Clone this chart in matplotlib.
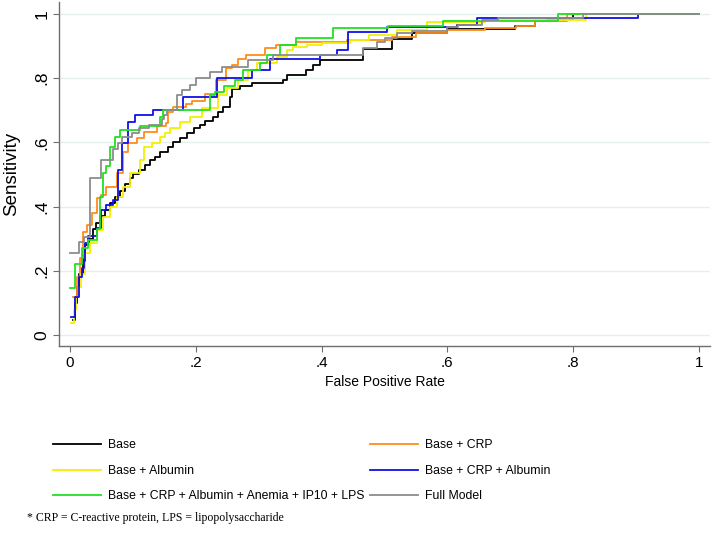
import matplotlib.pyplot as plt

# ROC step curves: (false positive rate, sensitivity)
base_fpr = [0.004, 0.008, 0.011, 0.014, 0.02, 0.024, 0.03, 0.036, 0.042, 0.048, 0.056, 0.064, 0.072,
            0.08, 0.088, 0.095, 0.10, 0.11, 0.12, 0.127, 0.135, 0.143, 0.155, 0.164, 0.175, 0.186,
            0.197, 0.207, 0.215, 0.227, 0.235, 0.244, 0.254, 0.258, 0.27, 0.29, 0.339, 0.345, 0.375,
            0.386, 0.397, 0.466, 0.512, 0.544, 0.60, 0.707, 0.739, 0.758, 0.80, 1.0]
base_tpr = [0.047, 0.10, 0.15, 0.19, 0.25, 0.28, 0.30, 0.33, 0.35, 0.37, 0.39, 0.41, 0.43,
            0.45, 0.47, 0.49, 0.50, 0.515, 0.53, 0.545, 0.555, 0.57, 0.585, 0.60, 0.615, 0.63,
            0.645, 0.655, 0.665, 0.68, 0.695, 0.71, 0.74, 0.765, 0.775, 0.785, 0.795, 0.81, 0.825,
            0.84, 0.857, 0.891, 0.922, 0.94, 0.953, 0.963, 0.978, 0.985, 1.0, 1.0]

crp_fpr = [0.004, 0.011, 0.016, 0.021, 0.027, 0.035, 0.043, 0.05, 0.058, 0.075, 0.085, 0.092, 0.106,
           0.117, 0.138, 0.153, 0.156, 0.164, 0.185, 0.194, 0.215, 0.232, 0.248, 0.257, 0.267, 0.28,
           0.31, 0.327, 0.36, 0.44, 0.512, 0.55, 0.60, 0.66, 0.709, 0.739, 0.79, 1.0]
crp_tpr = [0.12, 0.18, 0.24, 0.32, 0.343, 0.38, 0.427, 0.436, 0.46, 0.505, 0.57, 0.598, 0.613,
           0.633, 0.65, 0.66, 0.695, 0.71, 0.72, 0.73, 0.75, 0.794, 0.83, 0.84, 0.86, 0.872,
           0.894, 0.903, 0.913, 0.919, 0.928, 0.94, 0.95, 0.955, 0.963, 0.978, 1.0, 1.0]

alb_fpr = [0.002, 0.006, 0.010, 0.014, 0.018, 0.024, 0.032, 0.043, 0.053, 0.064, 0.075, 0.085, 0.095,
           0.111, 0.117, 0.13, 0.143, 0.151, 0.159, 0.175, 0.19, 0.21, 0.235, 0.249, 0.267, 0.283,
           0.297, 0.329, 0.345, 0.355, 0.377, 0.40, 0.445, 0.476, 0.52, 0.567, 0.66, 0.82, 1.0]
alb_tpr = [0.037, 0.078, 0.12, 0.15, 0.19, 0.255, 0.286, 0.327, 0.368, 0.40, 0.43, 0.46, 0.505,
           0.545, 0.586, 0.598, 0.617, 0.63, 0.645, 0.664, 0.68, 0.707, 0.748, 0.77, 0.794, 0.826,
           0.847, 0.866, 0.888, 0.897, 0.903, 0.91, 0.92, 0.934, 0.95, 0.975, 0.98, 1.0, 1.0]

crp_alb_fpr = [0.001, 0.008, 0.014, 0.019, 0.022, 0.024, 0.029, 0.043, 0.05, 0.058, 0.068, 0.077,
               0.083, 0.092, 0.103, 0.132, 0.18, 0.233, 0.29, 0.318, 0.397, 0.424, 0.442, 0.504,
               0.615, 0.647, 0.903, 1.0]
crp_alb_tpr = [0.056, 0.12, 0.18, 0.21, 0.23, 0.286, 0.31, 0.333, 0.39, 0.405, 0.42, 0.514,
               0.598, 0.664, 0.685, 0.70, 0.742, 0.80, 0.826, 0.86, 0.872, 0.888, 0.944, 0.96,
               0.966, 0.988, 1.0, 1.0]

lps_fpr = [0.0, 0.008, 0.019, 0.029, 0.043, 0.048, 0.053, 0.058, 0.064, 0.072, 0.08, 0.111, 0.143,
           0.148, 0.222, 0.23, 0.245, 0.262, 0.275, 0.302, 0.313, 0.334, 0.36, 0.418, 0.506, 0.593,
           0.776, 1.0]
lps_tpr = [0.146, 0.22, 0.27, 0.296, 0.33, 0.43, 0.505, 0.525, 0.586, 0.617, 0.64, 0.65, 0.68,
           0.70, 0.748, 0.757, 0.775, 0.794, 0.826, 0.847, 0.872, 0.903, 0.925, 0.956, 0.963, 0.978,
           1.0, 1.0]

full_fpr = [0.0, 0.014, 0.022, 0.032, 0.05, 0.069, 0.077, 0.083, 0.098, 0.11, 0.125, 0.146, 0.15,
            0.154, 0.17, 0.178, 0.19, 0.2, 0.222, 0.241, 0.283, 0.323, 0.466, 0.488, 0.50, 0.52,
            0.544, 0.60, 0.617, 0.655, 0.68, 0.815, 1.0]
full_tpr = [0.255, 0.29, 0.305, 0.49, 0.545, 0.58, 0.598, 0.617, 0.63, 0.645, 0.654, 0.673, 0.685,
            0.70, 0.748, 0.763, 0.78, 0.80, 0.82, 0.835, 0.857, 0.872, 0.894, 0.913, 0.925, 0.94,
            0.947, 0.96, 0.966, 0.981, 0.988, 1.0, 1.0]

tick_vals = [0, 0.2, 0.4, 0.6, 0.8, 1]
tick_labels = ["0", ".2", ".4", ".6", ".8", "1"]

plt.rcParams["font.family"] = ["Liberation Sans", "DejaVu Sans"]

fig = plt.figure(figsize=(7.14, 5.52), dpi=100)
ax = fig.add_axes([59 / 714, 206 / 552, 651 / 714, 344 / 552])

lw = 1.3
h_base, = ax.step(base_fpr, base_tpr, where="post", color="black", lw=lw, label="Base")
h_crp, = ax.step(crp_fpr, crp_tpr, where="post", color="#ff8c1a", lw=lw, label="Base + CRP")
h_alb, = ax.step(alb_fpr, alb_tpr, where="post", color="#f5f000", lw=lw, label="Base + Albumin")
h_ca, = ax.step(crp_alb_fpr, crp_alb_tpr, where="post", color="#1010e8", lw=lw,
                label="Base + CRP + Albumin")
h_lps, = ax.step(lps_fpr, lps_tpr, where="post", color="#22e022", lw=lw,
                 label="Base + CRP + Albumin + Anemia + IP10 + LPS")
h_full, = ax.step(full_fpr, full_tpr, where="post", color="#8c8c8c", lw=lw, label="Full Model")

ax.set_xlim(-0.0175, 1.0175)
ax.set_ylim(-0.034, 1.037)
ax.set_xticks(tick_vals)
ax.set_xticklabels(tick_labels, fontsize=11)
ax.set_yticks(tick_vals)
ax.set_yticklabels(tick_labels, rotation=90, va="center", fontsize=12.5)
ax.grid(axis="y", color="#e6eef0", lw=1.0)
ax.set_axisbelow(True)
for s in ["top", "right"]:
    ax.spines[s].set_visible(False)
for s in ["left", "bottom"]:
    ax.spines[s].set_color("#6e6e6e")
    ax.spines[s].set_linewidth(1.0)
ax.tick_params(colors="#6e6e6e", labelcolor="black", length=4, pad=3)
ax.set_xlabel("False Positive Rate", fontsize=10, labelpad=4)
ax.set_ylabel("Sensitivity", fontsize=13.5)
ax.yaxis.set_label_coords(-0.059, 0.5)

# legend is row-wise in the picture, matplotlib fills columns first
fig.legend(handles=[h_base, h_alb, h_lps, h_crp, h_ca, h_full], ncol=2, frameon=False,
           loc="upper left", bbox_to_anchor=(47 / 714, 1 - 433 / 552), fontsize=8.8,
           handlelength=3.9, handletextpad=0.57, columnspacing=0.5, labelspacing=1.12,
           borderpad=0)

fig.text(27 / 714, 1 - 518 / 552, "* CRP = C-reactive protein, LPS = lipopolysaccharide",
         family=["Liberation Serif", "DejaVu Serif"], fontsize=8.5, va="center")

fig.savefig("out.png", dpi=100)
